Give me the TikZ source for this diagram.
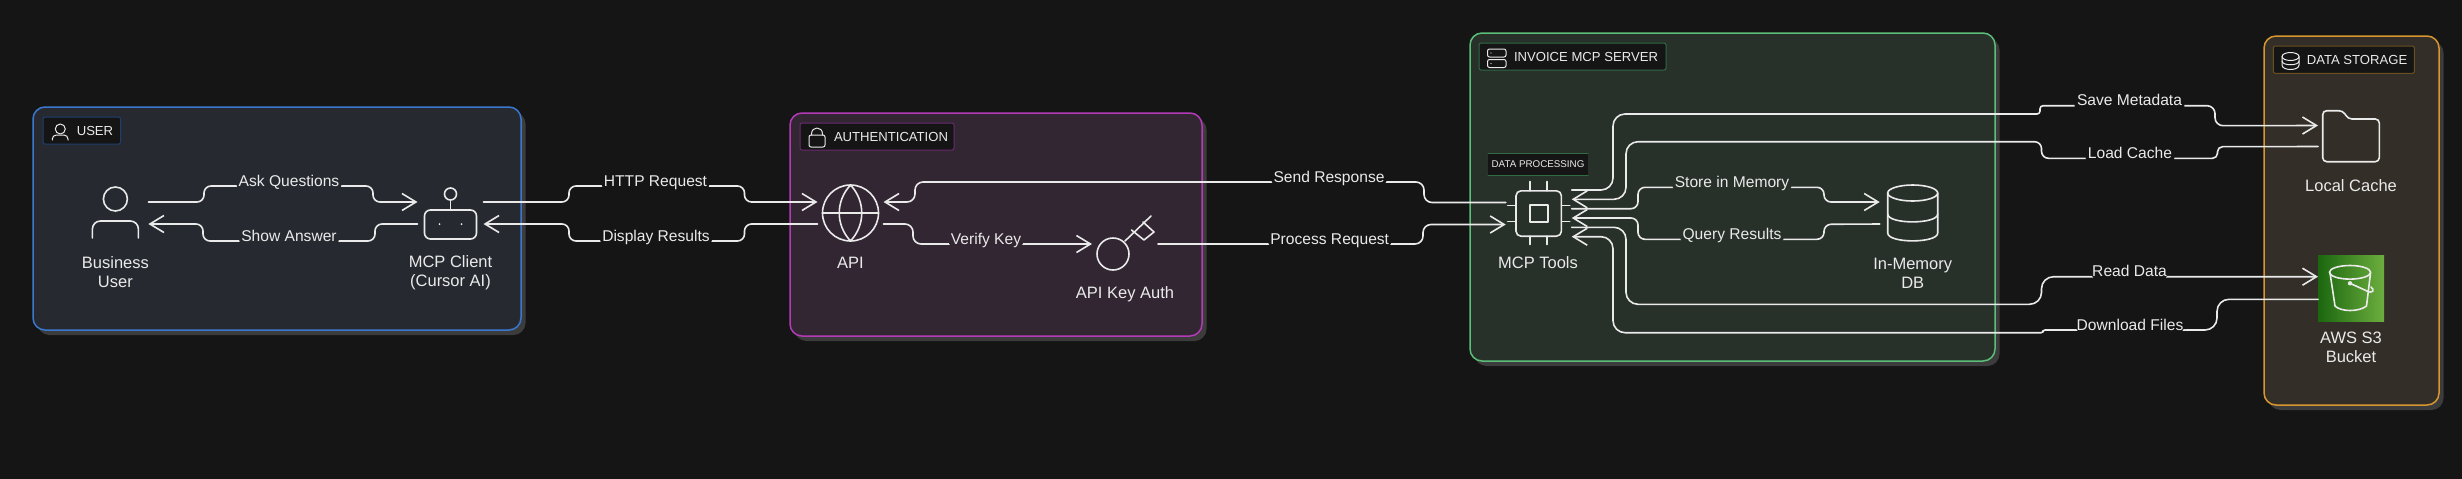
\documentclass[tikz,border=0pt]{standalone}
\usepackage{fontspec}
\setmainfont{Liberation Sans}
\usetikzlibrary{arrows.meta}
\definecolor{bg}{HTML}{151515}
\definecolor{ink}{HTML}{EAEAEA}
\definecolor{shadowc}{HTML}{3C3C3C}
\definecolor{usrf}{HTML}{262A30}\definecolor{usrs}{HTML}{3A78D0}\definecolor{usrd}{HTML}{1F3F6F}
\definecolor{authf}{HTML}{322633}\definecolor{auths}{HTML}{B43BB8}\definecolor{authd}{HTML}{6A2A6E}
\definecolor{srvf}{HTML}{28302A}\definecolor{srvs}{HTML}{5BBF7A}\definecolor{srvd}{HTML}{2F6B45}
\definecolor{stof}{HTML}{332F28}\definecolor{stos}{HTML}{D8962F}\definecolor{stod}{HTML}{6B4F20}
\definecolor{sthreea}{HTML}{1B660F}\definecolor{sthreeb}{HTML}{6CAE3E}
\tikzset{
  flow/.style={draw=ink,line width=.8pt,-{Straight Barb[length=7pt,width=8.5pt]}},
  lbl/.style={fill=bg,text=ink,font=\fontsize{7.8}{9}\selectfont,inner xsep=1.2pt,inner ysep=.5pt,text height=5.8pt,text depth=1.7pt,yshift=2pt},
  iconbox/.style={minimum width=33pt,minimum height=33pt,inner sep=0pt,outer sep=0pt},
  iconline/.style={draw=ink,line width=.8pt},
  tagline/.style={draw=ink,line width=.5pt},
  nodecap/.style={text=ink,font=\fontsize{8.25}{9.5}\selectfont,align=center,inner sep=0pt},
  tagtext/.style={text=ink,font=\fontsize{6.55}{8}\selectfont,inner sep=0pt},
}
% name, x1, y1, x2, y2, fill, stroke
\newcommand{\grp}[7]{%
  \node[fill=shadowc,rounded corners=6pt,inner sep=0pt,outer sep=0pt,minimum width={(#4-#2)*.5pt},minimum height={(#5-#3)*.5pt}] (#1shadow) at ({(#2+#4)/2+4.5},{(#3+#5)/2+5}) {};
  \node[fill=#6,draw=#7,line width=.75pt,rounded corners=6pt,inner sep=0pt,outer sep=0pt,minimum width={(#4-#2)*.5pt},minimum height={(#5-#3)*.5pt}] (#1) at ({(#2+#4)/2},{(#3+#5)/2}) {};}
\newcommand{\tagbox}[6]{%
  \node[fill=bg,draw=#6,line width=.5pt,rounded corners=1pt,inner sep=0pt,outer sep=0pt,minimum width={(#4-#2)*.5pt},minimum height={(#5-#3)*.5pt}] (#1) at ({(#2+#4)/2},{(#3+#5)/2}) {};}
\begin{document}
\begin{tikzpicture}[x=.5pt,y=-.5pt,line cap=round,line join=round]
\useasboundingbox (0,0) rectangle (2462,478);
\fill[bg] (-6,-6) rectangle (2468,484);

% groups
\grp{usergroup}{33}{107}{521}{330}{usrf}{usrs}
\grp{authgroup}{790}{113}{1202}{336}{authf}{auths}
\grp{servergroup}{1470}{33}{1995}{361}{srvf}{srvs}
\grp{storagegroup}{2264}{36}{2439}{405}{stof}{stos}

% group tags
\tagbox{usertag}{43}{117}{120.5}{144}{usrd}
\node[tagtext] (usertext) at (95,131) {USER};
\draw[tagline] (60.3,129) circle[radius=2.5pt];
\draw[tagline,rounded corners=2pt] (52.3,140) -- (52.3,135) -- (68,135) -- (68,140);

\tagbox{authtag}{800}{123}{954}{150}{authd}
\node[tagtext] (authtext) at (891,137) {AUTHENTICATION};
\draw[tagline,rounded corners=1pt] (809,135) rectangle (825,147);
\draw[tagline] (811.5,135) -- (811.5,134) .. controls (811.5,126) and (822.5,126) .. (822.5,134) -- (822.5,135);

\tagbox{servertag}{1479}{43}{1666}{70}{srvd}
\node[tagtext] (servertext) at (1586,57) {INVOICE MCP SERVER};
\draw[tagline,rounded corners=1pt] (1487.5,49) rectangle (1506,57);
\draw[tagline,rounded corners=1pt] (1487.5,59.5) rectangle (1506,67.5);
\fill[ink] (1491,53) circle[radius=.35pt] (1491,63.5) circle[radius=.35pt];

\tagbox{storagetag}{2273.3}{46}{2414.3}{73.3}{stod}
\node[tagtext] (storagetext) at (2357,60) {DATA STORAGE};
\draw[tagline] (2290.5,56.5) ellipse[x radius=4.25pt,y radius=2pt];
\draw[tagline] (2282,56.5) -- (2282,65) .. controls (2282,71) and (2299,71) .. (2299,65) -- (2299,56.5);
\draw[tagline] (2282,61) .. controls (2282,66) and (2299,66) .. (2299,61);

% data processing tag
\node[fill=bg,inner sep=0pt,outer sep=0pt,minimum width=50pt,minimum height=11pt,text=ink,font=\fontsize{4.9}{6}\selectfont] (dptag) at (1538,164) {DATA PROCESSING};
\draw[srvd,line width=.5pt] (dptag.north west) -- (dptag.north east) (dptag.south west) -- (dptag.south east);

% icon nodes
\node[iconbox] (user) at (115.4,213) {};
\node[iconbox] (client) at (450.5,213) {};
\node[iconbox] (api) at (850.5,213) {};
\node[iconbox] (keyauth) at (1125,244) {};
\node[iconbox] (tools) at (1538.7,213.5) {};
\node[iconbox] (memdb) at (1912.7,213) {};
\node[iconbox] (cache) at (2351,136) {};
\node[iconbox,shade,shading angle=45,left color=sthreea,right color=sthreeb] (s3) at (2351,288) {};

% icon drawings
\begin{scope}[shift={(user.center)}]
  \draw[iconline] (0,-14) circle[radius=6pt];
  \draw[iconline,rounded corners=4pt] (-23,25) -- (-23,8) -- (23,8) -- (23,25);
\end{scope}
\begin{scope}[shift={(client.center)}]
  \draw[iconline,rounded corners=3pt] (-26,-3) rectangle (26,26);
  \draw[iconline] (0,-19) circle[radius=3pt];
  \draw[iconline] (0,-13) -- (0,-3);
  \fill[ink] (-11,11) circle[radius=.5pt] (11,11) circle[radius=.5pt];
\end{scope}
\begin{scope}[shift={(api.center)}]
  \draw[iconline] (0,0) circle[radius=14pt];
  \draw[iconline] (-28,0) -- (28,0);
  \draw[iconline] (0,-28) .. controls (-15,-12) and (-15,12) .. (0,28) .. controls (15,12) and (15,-12) .. cycle;
\end{scope}
\begin{scope}[shift={(keyauth.center)}]
  \draw[iconline] (-12,10) circle[radius=8pt];
  \draw[iconline] (0,-3) -- (26,-28);
  \draw[iconline] (18,-22) -- (29,-12) -- (19,-4) -- (6.5,-14);
\end{scope}
\begin{scope}[shift={(tools.center)}]
  \draw[iconline,rounded corners=2.5pt] (-22.7,-22.7) rectangle (22.7,22.7);
  \draw[iconline] (-9,-8.5) rectangle (9,8.5);
  \draw[iconline] (-8.5,-32) -- (-8.5,-22.7) (8.5,-32) -- (8.5,-22.7) (-8.5,22.7) -- (-8.5,31) (8.5,22.7) -- (8.5,31);
  \draw[iconline] (-31,-8) -- (-22.7,-8) (-31,8) -- (-22.7,8) (22.7,-8) -- (31,-8) (22.7,8) -- (31,8);
\end{scope}
\begin{scope}[shift={(memdb.center)}]
  \draw[iconline] (0,-20) ellipse[x radius=12.5pt,y radius=4pt];
  \draw[iconline] (-25,-20) -- (-25,20) .. controls (-25,30.5) and (25,30.5) .. (25,20) -- (25,-20);
  \draw[iconline] (-25,1) .. controls (-25,11.5) and (25,11.5) .. (25,1);
\end{scope}
\begin{scope}[shift={(cache.center)}]
  \draw[iconline,rounded corners=2pt] (-28.3,25.7) -- (-28.3,-25.3) -- (-8,-25.3) -- (-3,-17) -- (28.3,-17) -- (28.3,25.7) -- cycle;
\end{scope}
\begin{scope}[shift={(s3.center)}]
  \draw[iconline] (-1,-15.7) ellipse[x radius=10.3pt,y radius=3.4pt];
  \draw[iconline] (-21,-15) -- (-16,18) .. controls (-10,24) and (8,24) .. (15.5,18) -- (19.5,-15);
  \fill[ink] (-1,-4.7) circle[radius=1.1pt];
  \draw[iconline] (-1,-4.7) -- (16,3) .. controls (22,6) and (24,2) .. (20,-1);
\end{scope}

% captions
\node[nodecap] (usercap) at (115.4,272.5) {Business\\User};
\node[nodecap] (clientcap) at (450.5,272.5) {MCP Client\\(Cursor AI)};
\node[nodecap] (apicap) at (850.5,263) {API};
\node[nodecap] (keycap) at (1125,294) {API Key Auth};
\node[nodecap] (toolscap) at (1538,263) {MCP Tools};
\node[nodecap] (dbcap) at (1912.7,273) {In-Memory\\DB};
\node[nodecap] (cachecap) at (2351,186) {Local Cache};
\node[nodecap] (s3cap) at (2351,347.5) {AWS S3\\Bucket};

% connectors
\draw[flow] ([yshift=5.5pt]user.east) [rounded corners=3.5pt] -- (204,202) -- (204,186) -- (289,186) node[lbl,fill=usrf] {Ask Questions} -- (373,186) -- (373,202) -- ([yshift=5.5pt]client.west);
\draw[flow] ([yshift=-5.5pt]client.west) [rounded corners=3.5pt] -- (375,224) -- (375,241) -- (289,241) node[lbl,fill=usrf] {Show Answer} -- (203,241) -- (203,224) -- ([yshift=-5.5pt]user.east);
\draw[flow] ([yshift=5.5pt]client.east) [rounded corners=3.5pt] -- (569,202) -- (569,186) -- (655.5,186) node[lbl] {HTTP Request} -- (744.5,186) -- (744.5,202) -- ([yshift=5.5pt]api.west);
\draw[flow] ([yshift=-5.5pt]api.west) [rounded corners=3.5pt] -- (744.5,224) -- (744.5,241) -- (656,241) node[lbl] {Display Results} -- (569,241) -- (569,224) -- ([yshift=-5.5pt]client.east);
\draw[flow] ([yshift=-5.5pt]api.east) [rounded corners=4pt] -- (913,224) -- (913,244) -- (986,244) node[lbl,fill=authf] {Verify Key} -- (keyauth.west);
\draw[flow] (keyauth.east) [rounded corners=4pt] -- (1329.7,244) node[lbl] {Process Request} -- (1423,244) -- (1423,224.5) -- ([yshift=-5.5pt]tools.west);
\draw[flow] ([yshift=5.5pt]tools.west) [rounded corners=4pt] -- (1424,202.5) -- (1424,182) -- (1329,182) node[lbl] {Send Response} -- (915,182) -- (915,202) -- ([yshift=5.5pt]api.east);

\draw[flow] ([yshift=2.4pt]tools.east) [rounded corners=3.5pt] -- (1638,208.7) -- (1638,187.3) -- (1732,187.3) node[lbl,fill=srvf] {Store in Memory} -- (1824,187.3) -- (1824,202) -- ([yshift=5.5pt]memdb.west);
\draw[flow] ([yshift=-5.5pt]memdb.west) [rounded corners=3.5pt] -- (1824,224.3) -- (1824,239.3) -- (1732,239.3) node[lbl,fill=srvf] {Query Results} -- (1638,239.3) -- (1638,218) -- ([yshift=-2.25pt]tools.east);

\draw[flow] ([yshift=11.75pt]tools.east) [rounded corners=6pt] -- (1613,190) -- (1613,114) -- (1900,114) [rounded corners=1.5pt] -- (2040,114) -- (2040,105.7) -- (2129.5,105.7) node[lbl] {Save Metadata} [rounded corners=4pt] -- (2215,105.7) -- (2215,125.7) -- ([yshift=5.25pt]cache.west);
\draw[flow] ([yshift=-5.25pt]cache.west) [rounded corners=2.5pt] -- (2217.5,146.7) -- (2217.5,158.3) -- (2130,158.3) node[lbl] {Load Cache} [rounded corners=3.5pt] -- (2041.5,158.3) -- (2041.5,141.7) -- (1800,141.7) [rounded corners=6pt] -- (1626,141.7) -- (1626,199.3) -- ([yshift=7.1pt]tools.east);
\draw[flow] ([yshift=-6.9pt]tools.east) [rounded corners=6pt] -- (1626,227.3) -- (1626,304.3) -- (1900,304.3) -- (2041.5,304.3) -- (2041.5,276.7) -- (2129.5,276.7) node[lbl] {Read Data} -- ([yshift=5.65pt]s3.west);
\draw[flow] ([yshift=-5.65pt]s3.west) [rounded corners=6pt] -- (2217,299.3) -- (2217,330) -- (2130,330) node[lbl] {Download Files} [rounded corners=1pt] -- (2043,330) -- (2043,332.7) -- (1900,332.7) [rounded corners=6pt] -- (1613,332.7) -- (1613,236.7) -- ([yshift=-11.6pt]tools.east);
\end{tikzpicture}
\end{document}
